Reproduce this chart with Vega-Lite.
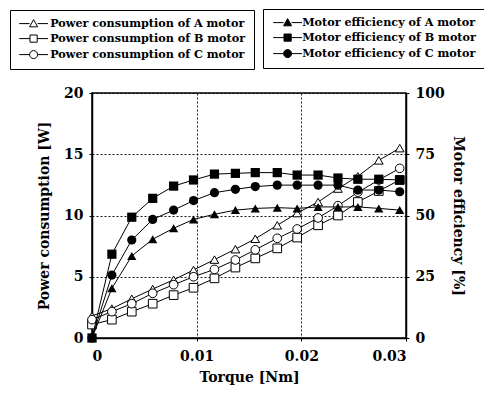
{
  "$schema": "https://vega.github.io/schema/vega-lite/v6.json",
  "width": 314,
  "height": 245,
  "autosize": {"type": "none"},
  "padding": {"left": 92, "top": 93, "right": 78, "bottom": 55},
  "background": "white",
  "config": {
    "view": {"stroke": "black", "strokeWidth": 1.5},
    "font": "DejaVu Serif",
    "axis": {
      "labelFont": "DejaVu Serif", "labelFontWeight": "bold", "labelFontSize": 14, "labelColor": "black",
      "titleFont": "DejaVu Serif", "titleFontWeight": "bold", "titleFontSize": 14, "titleColor": "black",
      "domainColor": "black", "domainWidth": 1.5, "tickColor": "black", "tickSize": 3,
      "gridColor": "black", "gridDash": [2, 2], "gridWidth": 1, "gridOpacity": 0.9
    },
    "legend": {
      "orient": "none", "title": null, "strokeColor": "black", "padding": 8, "fillColor": "white",
      "labelFont": "DejaVu Serif", "labelFontWeight": "bold", "labelFontSize": 11.2, "labelColor": "black",
      "labelLimit": 400, "symbolSize": 64, "symbolStrokeWidth": 1, "rowPadding": 3
    }
  },
  "data": {
    "values": [
      {"t": 0, "pA": 1.8, "pB": 1.1, "pC": 1.5, "eA": 0, "eB": 0, "eC": 0},
      {"t": 0.0019, "pA": 2.4, "pB": 1.5, "pC": 2.15, "eA": 20.3, "eB": 34.2, "eC": 25.7},
      {"t": 0.0038, "pA": 3.2, "pB": 2.15, "pC": 2.8, "eA": 33.5, "eB": 49.3, "eC": 40.0},
      {"t": 0.0058, "pA": 4.0, "pB": 2.8, "pC": 3.65, "eA": 40.3, "eB": 57.0, "eC": 48.4},
      {"t": 0.0078, "pA": 4.75, "pB": 3.5, "pC": 4.35, "eA": 44.8, "eB": 62.0, "eC": 52.2},
      {"t": 0.0097, "pA": 5.55, "pB": 4.1, "pC": 5.0, "eA": 48.4, "eB": 64.5, "eC": 56.1},
      {"t": 0.0117, "pA": 6.4, "pB": 4.87, "pC": 5.6, "eA": 50.5, "eB": 66.9, "eC": 59.3},
      {"t": 0.0137, "pA": 7.25, "pB": 5.75, "pC": 6.37, "eA": 52.2, "eB": 67.2, "eC": 60.7},
      {"t": 0.0156, "pA": 8.1, "pB": 6.5, "pC": 7.2, "eA": 52.9, "eB": 67.5, "eC": 61.8},
      {"t": 0.0177, "pA": 9.2, "pB": 7.32, "pC": 8.14, "eA": 53.2, "eB": 67.5, "eC": 62.4},
      {"t": 0.0196, "pA": 10.2, "pB": 8.2, "pC": 8.9, "eA": 52.9, "eB": 66.5, "eC": 62.4},
      {"t": 0.0216, "pA": 11.1, "pB": 9.2, "pC": 9.8, "eA": 53.5, "eB": 66.5, "eC": 62.4},
      {"t": 0.0235, "pA": 12.2, "pB": 10.0, "pC": 10.8, "eA": 53.5, "eB": 65.3, "eC": 62.4},
      {"t": 0.0254, "pA": 13.2, "pB": 11.1, "pC": 11.9, "eA": 53.5, "eB": 64.8, "eC": 60.4},
      {"t": 0.0274, "pA": 14.5, "pB": 12.0, "pC": 12.9, "eA": 52.9, "eB": 64.8, "eC": 60.4},
      {"t": 0.0294, "pA": 15.5, "pB": 12.9, "pC": 13.85, "eA": 52.2, "eB": 64.5, "eC": 59.7}
    ]
  },
  "layer": [
    {
      "transform": [{"fold": ["pA", "pB", "pC"], "as": ["s", "v"]}],
      "encoding": {
        "x": {"field": "t", "type": "quantitative", "scale": {"domain": [0, 0.03], "nice": false},
              "axis": {"values": [0, 0.01, 0.02, 0.03], "format": "~g", "title": "Torque [Nm]", "grid": true, "labelPadding": 8, "titlePadding": 7}},
        "y": {"field": "v", "type": "quantitative", "scale": {"domain": [0, 20], "nice": false},
              "axis": {"orient": "left", "values": [0, 5, 10, 15, 20], "title": "Power consumption [W]", "grid": true, "labelPadding": 6, "titlePadding": 12}}
      },
      "layer": [
        {"mark": {"type": "line", "color": "black"},
         "encoding": {"detail": {"field": "s"},
                      "strokeWidth": {"field": "s", "type": "nominal", "scale": {"domain": ["pA", "pB", "pC"], "range": [1, 1, 2.2]}, "legend": null}}},
        {"mark": {"type": "point", "filled": true, "fill": "white", "stroke": "black", "strokeWidth": 1, "opacity": 1, "size": 75},
         "encoding": {"shape": {"field": "s", "type": "nominal",
                                "scale": {"domain": ["pA", "pB", "pC"], "range": ["triangle-up", "square", "circle"]},
                                "legend": null}}}
      ]
    },
    {
      "transform": [{"fold": ["eA", "eB", "eC"], "as": ["s", "v"]}],
      "encoding": {
        "x": {"field": "t", "type": "quantitative", "scale": {"domain": [0, 0.03], "nice": false}},
        "y": {"field": "v", "type": "quantitative", "scale": {"domain": [0, 100], "nice": false},
              "axis": {"orient": "right", "values": [0, 25, 50, 75, 100], "title": "Motor efficiency [%]", "grid": false, "labelPadding": 6, "titlePadding": 6}}
      },
      "layer": [
        {"mark": {"type": "line", "color": "black", "strokeWidth": 1},
         "encoding": {"detail": {"field": "s"}}},
        {"mark": {"type": "point", "filled": true, "color": "black", "opacity": 1, "size": 85},
         "encoding": {"shape": {"field": "s", "type": "nominal",
                                "scale": {"domain": ["eA", "eB", "eC"], "range": ["triangle-up", "square", "circle"]},
                                "legend": null}}}
      ]
    },
    {
      "transform": [{"fold": ["pA", "pB", "pC"], "as": ["s", "v"]}, {"filter": "datum.t < 0"}],
      "mark": {"type": "point", "filled": true, "fill": "white", "stroke": "black", "strokeWidth": 1, "opacity": 1},
      "encoding": {
        "x": {"field": "t", "type": "quantitative", "scale": {"domain": [0, 0.03], "nice": false}},
        "y": {"field": "v", "type": "quantitative", "scale": {"domain": [0, 20]}, "axis": null},
        "shape": {"field": "s", "type": "nominal",
                  "scale": {"domain": ["pA", "pB", "pC"],
                            "range": ["M-3.6,0H-1M1,0H3.6M0,-1L1,0.8H-1Z", "M-3.6,0H-0.9M0.9,0H3.6M-0.9,-0.9H0.9V0.9H-0.9Z", "M-3.6,0H-1M1,0H3.6M-1,0A1,1 0 1,0 1,0A1,1 0 1,0 -1,0Z"]},
                  "legend": {"legendX": -82, "legendY": -83, "symbolOffset": 10, "labelOffset": 11,
                             "labelExpr": "datum.value == 'pA' ? 'Power consumption of A motor' : datum.value == 'pB' ? 'Power consumption of B motor' : 'Power consumption of C motor'"}}
      }
    },
    {
      "transform": [{"fold": ["eA", "eB", "eC"], "as": ["s", "v"]}, {"filter": "datum.t < 0"}],
      "mark": {"type": "point", "filled": true, "fill": "black", "stroke": "black", "strokeWidth": 1, "opacity": 1},
      "encoding": {
        "x": {"field": "t", "type": "quantitative", "scale": {"domain": [0, 0.03], "nice": false}},
        "y": {"field": "v", "type": "quantitative", "scale": {"domain": [0, 100]}, "axis": null},
        "shape": {"field": "s", "type": "nominal",
                  "scale": {"domain": ["eA", "eB", "eC"],
                            "range": ["M-3.6,0H-1M1,0H3.6M0,-1L1,0.8H-1Z", "M-3.6,0H-0.9M0.9,0H3.6M-0.9,-0.9H0.9V0.9H-0.9Z", "M-3.6,0H-1M1,0H3.6M-1,0A1,1 0 1,0 1,0A1,1 0 1,0 -1,0Z"]},
                  "legend": {"legendX": 171, "legendY": -84, "symbolOffset": 11, "labelOffset": 9,
                             "labelExpr": "datum.value == 'eA' ? 'Motor efficiency of A motor' : datum.value == 'eB' ? 'Motor efficiency of B motor' : 'Motor efficiency of C motor'"}}
      }
    }
  ],
  "resolve": {"scale": {"y": "independent", "shape": "independent"}}
}
